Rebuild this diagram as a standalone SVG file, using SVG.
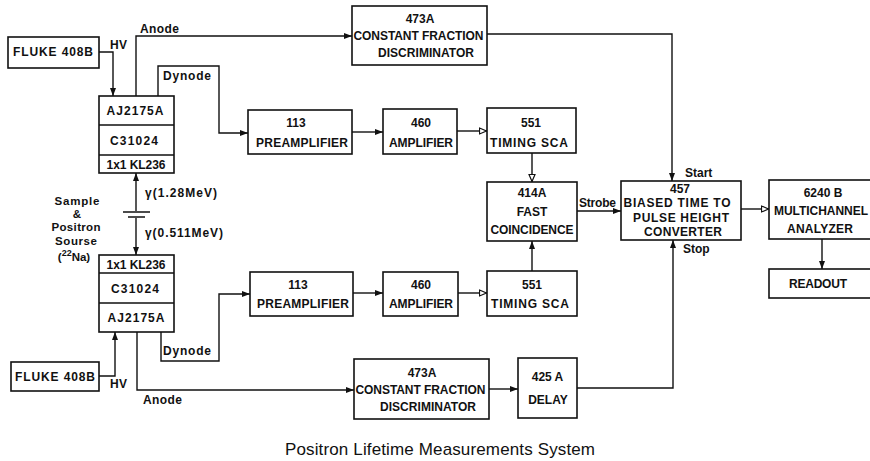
<svg xmlns="http://www.w3.org/2000/svg" width="870" height="461" viewBox="0 0 870 461">
<defs>
<style>
.box{fill:#fff;stroke:#111;stroke-width:1.6}
.div{stroke:#111;stroke-width:1.4;fill:none}
.ln{fill:none;stroke:#111;stroke-width:1.4}
.arr{marker-end:url(#af)}
.harr{marker-end:url(#ah)}
text{font-family:"Liberation Sans",Arial,sans-serif;fill:#111}
.t{font-size:12px;font-weight:bold;text-anchor:middle}
.l{font-size:12px;font-weight:bold}
.s{font-size:11.5px;font-weight:bold;text-anchor:middle}
.ttl{font-size:17px;text-anchor:middle}
</style>
<marker id="af" markerUnits="userSpaceOnUse" markerWidth="9" markerHeight="7" refX="8" refY="3.5" orient="auto"><path d="M0,0.5 L8,3.5 L0,6.5 z" fill="#111"/></marker>
<marker id="ah" markerUnits="userSpaceOnUse" markerWidth="10" markerHeight="8" refX="8.5" refY="4" orient="auto"><path d="M1,1 L8,4 L1,7 z" fill="#fff" stroke="#111" stroke-width="1.2"/></marker>
</defs>

<g id="connectors">
<path class="ln arr" d="M99,52 H113 V96"/>
<path class="ln arr" d="M136,96 V36 H352"/>
<path class="ln arr" d="M158,96 V66 H219 V133 H248"/>
<path class="ln arr" d="M352,132 H383"/>
<path class="ln harr" d="M457,131 H487"/>
<path class="ln harr" d="M532,153 V182"/>
<path class="ln arr" d="M487,34 H672 V181"/>
<path class="ln arr" d="M577,211 H621"/>
<path class="ln harr" d="M741,209 H769"/>
<path class="ln arr" d="M822,239 V269"/>
<path class="ln arr" d="M136,211 V173"/>
<path class="ln arr" d="M136,218 V255"/>
<path class="ln" d="M123,212 H150 M128,217 H145" stroke-width="1.8"/>
<path class="ln arr" d="M99,376 H115 V332"/>
<path class="ln arr" d="M161,332 V361 H219 V294 H250"/>
<path class="ln arr" d="M353,293 H383"/>
<path class="ln harr" d="M458,293 H487"/>
<path class="ln arr" d="M532,271 V241"/>
<path class="ln arr" d="M137,332 V390 H354"/>
<path class="ln arr" d="M489,389 H518"/>
<path class="ln arr" d="M577,388 H673 V240"/>
</g>

<g id="labels">
<text class="l" x="110" y="49" textLength="17">H V</text>
<text class="l" x="140" y="33" textLength="39">Anode</text>
<text class="l" x="163" y="80" textLength="48">Dynode</text>
<text class="l" x="685" y="177">Start</text>
<text class="l" x="579" y="207" textLength="37">Strobe</text>
<text class="l" x="683" y="253">Stop</text>
<text class="l" x="145" y="197" textLength="72">γ(1.28MeV)</text>
<text class="l" x="145" y="237" textLength="78">γ(0.511MeV)</text>
<text class="l" x="110" y="388" textLength="17">H V</text>
<text class="l" x="163" y="355" textLength="48">Dynode</text>
<text class="l" x="143" y="404" textLength="39">Anode</text>
</g>

<g id="source-label">
<text class="s" x="77" y="205" textLength="45">Sample</text>
<text class="s" x="77" y="218">&amp;</text>
<text class="s" x="76" y="231" textLength="49">Positron</text>
<text class="s" x="76" y="245" textLength="42">Sourse</text>
<text class="s" x="74" y="261">(<tspan font-size="9" dy="-5">22</tspan><tspan dy="5">Na)</tspan></text>
</g>

<g id="fluke-top"><rect class="box" x="8" y="37" width="91" height="31"/><text class="t" x="53" y="56" textLength="80">FLUKE 408B</text></g>

<g id="pmt-top">
<rect class="box" x="99" y="96" width="75" height="77"/>
<path class="div" d="M99,125 H174 M99,155 H174"/>
<text class="t" x="135" y="115" textLength="57">AJ2175A</text>
<text class="t" x="134" y="144.5" textLength="48">C31024</text>
<text class="t" x="136" y="168.5" textLength="59">1x1 KL236</text>
</g>

<g id="cfd-top"><rect class="box" x="352" y="6" width="135" height="59"/>
<text class="t" x="420" y="23">473A</text><text class="t" x="418.5" y="40" textLength="130">CONSTANT FRACTION</text><text class="t" x="426" y="57" textLength="96">DISCRIMINATOR</text></g>

<g id="preamp-top"><rect class="box" x="248" y="110" width="104" height="44"/>
<text class="t" x="296" y="127">113</text><text class="t" x="302" y="147" textLength="92">PREAMPLIFIER</text></g>

<g id="amp-top"><rect class="box" x="383" y="109" width="74" height="45"/>
<text class="t" x="421" y="127">460</text><text class="t" x="421" y="147" textLength="64">AMPLIFIER</text></g>

<g id="sca-top"><rect class="box" x="487" y="108" width="89" height="45"/>
<text class="t" x="531" y="127">551</text><text class="t" x="529" y="147" textLength="78">TIMING SCA</text></g>

<g id="coincidence"><rect class="box" x="487" y="182" width="90" height="59"/>
<text class="t" x="532" y="197">414A</text><text class="t" x="532" y="216">FAST</text><text class="t" x="532" y="234" textLength="83">COINCIDENCE</text></g>

<g id="tac"><rect class="box" x="621" y="181" width="120" height="59"/>
<text class="t" x="680" y="193">457</text><text class="t" x="677" y="207" textLength="107">BIASED TIME TO</text><text class="t" x="681" y="222" textLength="96">PULSE HEIGHT</text><text class="t" x="683" y="236" textLength="78">CONVERTER</text></g>

<g id="mca"><rect class="box" x="769" y="180" width="105" height="59"/>
<text class="t" x="823" y="197">6240 B</text><text class="l" x="774" y="215" textLength="94">MULTICHANNEL</text><text class="t" x="820" y="233" textLength="66">ANALYZER</text></g>

<g id="readout"><rect class="box" x="769" y="269" width="103" height="29"/>
<text class="t" x="818" y="288" textLength="58">READOUT</text></g>

<g id="pmt-bottom">
<rect class="box" x="99" y="255" width="75" height="77"/>
<path class="div" d="M99,273 H174 M99,303 H174"/>
<text class="t" x="136" y="268.5" textLength="59">1x1 KL236</text>
<text class="t" x="135" y="292.5" textLength="48">C31024</text>
<text class="t" x="136" y="322" textLength="57">AJ2175A</text>
</g>

<g id="fluke-bottom"><rect class="box" x="11" y="362" width="88" height="29"/><text class="t" x="55" y="381" textLength="80">FLUKE 408B</text></g>

<g id="preamp-bottom"><rect class="box" x="250" y="272" width="103" height="44"/>
<text class="t" x="298" y="289">113</text><text class="t" x="303" y="308" textLength="92">PREAMPLIFIER</text></g>

<g id="amp-bottom"><rect class="box" x="383" y="272" width="75" height="44"/>
<text class="t" x="421" y="289">460</text><text class="t" x="421" y="308" textLength="64">AMPLIFIER</text></g>

<g id="sca-bottom"><rect class="box" x="487" y="271" width="90" height="45"/>
<text class="t" x="532" y="289">551</text><text class="t" x="530" y="308" textLength="78">TIMING SCA</text></g>

<g id="cfd-bottom"><rect class="box" x="354" y="359" width="135" height="60"/>
<text class="t" x="422" y="377">473A</text><text class="t" x="420.5" y="394" textLength="130">CONSTANT FRACTION</text><text class="t" x="428" y="411" textLength="96">DISCRIMINATOR</text></g>

<g id="delay"><rect class="box" x="518" y="358" width="59" height="60"/>
<text class="t" x="547.5" y="381">425 A</text><text class="t" x="548" y="404">DELAY</text></g>

<text class="ttl" x="440" y="455" textLength="310">Positron Lifetime Measurements System</text>
</svg>
